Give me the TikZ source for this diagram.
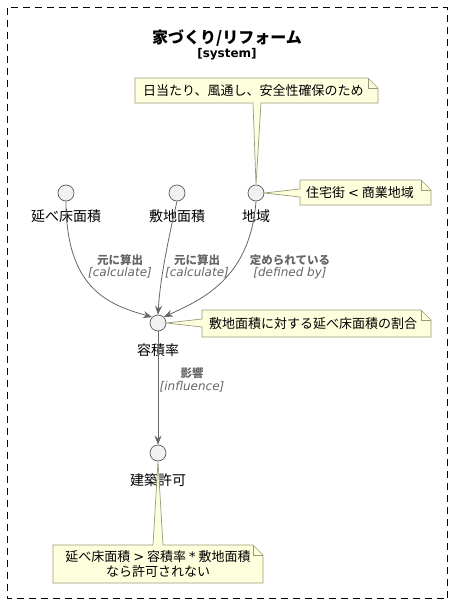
\documentclass[tikz,border=0pt]{standalone}
\usepackage{fontspec}
\setmainfont{Noto Sans CJK JP}
\newfontfamily\latin{DejaVu Sans}
\usetikzlibrary{arrows.meta}
\definecolor{notefill}{HTML}{FEFFDD}
\definecolor{noteline}{HTML}{9A9A78}
\definecolor{circfill}{HTML}{F1F1F1}
\definecolor{circline}{HTML}{5A5A5A}
\definecolor{edgecol}{HTML}{666666}
\definecolor{lblcol}{HTML}{666666}
\tikzset{
  usecase/.style={circle, draw=circline, fill=circfill, line width=0.7pt, minimum size=16pt, inner sep=0pt},
  uclabel/.style={font=\fontsize{14}{16}\selectfont, text=black, inner sep=0pt},
  notebox/.style={draw=noteline, fill=notefill, line width=0.7pt, line join=miter},
  notetext/.style={font=\fontsize{13}{16}\selectfont, inner sep=0pt, align=center},
  rel/.style={draw=edgecol, line width=0.8pt, -{Stealth[length=9pt,width=7pt]}},
  rellbl/.style={font=\fontsize{11.5}{13}\selectfont\bfseries, text=lblcol, inner sep=0pt},
  relsub/.style={font=\latin\fontsize{12}{14}\selectfont\itshape, text=lblcol, inner sep=0pt},
}
\begin{document}
\begin{tikzpicture}[x=1pt,y=-1pt]
\useasboundingbox (0,0) rectangle (453,605);
% frame
\draw[black, line width=0.8pt, dash pattern=on 7pt off 5pt] (7.5,7.5) rectangle (447.5,598.5);
\node[font=\fontsize{16}{18}\selectfont\bfseries, inner sep=0pt] (title) at (227,38) {家づくり/リフォーム};
\node[font=\latin\fontsize{12}{14}\selectfont\bfseries, inner sep=0pt] (stereo) at (227,54) {[system]};

% usecases
\node[usecase] (yuka) at (66,193) {};
\node[uclabel] (yukal) at (66,216) {延べ床面積};
\node[usecase] (shiki) at (177,193) {};
\node[uclabel] (shikil) at (177,216) {敷地面積};
\node[usecase] (chiiki) at (256,193) {};
\node[uclabel] (chiikil) at (256,216) {地域};
\node[usecase] (yoseki) at (158,323) {};
\node[uclabel] (yosekil) at (158,350) {容積率};
\node[usecase] (kyoka) at (158,453) {};
\node[uclabel] (kyokal) at (158,480) {建築許可};

% notes
\draw[notebox] (135,78) -- (368,78) -- (378,88) -- (378,103) -- (261,103) -- (chiiki.north) -- (253,103) -- (135,103) -- cycle;
\draw[noteline, line width=0.7pt] (368,78) -- (368,88) -- (378,88);
\node[notetext, anchor=west] (n1) at (143,90.5) {日当たり、風通し、安全性確保のため};

\draw[notebox] (300,180) -- (421,180) -- (431,190) -- (431,205) -- (300,205) -- (300,197) -- (chiiki.east) -- (300,189) -- cycle;
\draw[noteline, line width=0.7pt] (421,180) -- (421,190) -- (431,190);
\node[notetext, anchor=west] (n2) at (306,192.5) {住宅街 {\latin <} 商業地域};

\draw[notebox] (202,310) -- (421,310) -- (431,320) -- (431,337) -- (202,337) -- (202,327) -- (yoseki.east) -- (202,319) -- cycle;
\draw[noteline, line width=0.7pt] (421,310) -- (421,320) -- (431,320);
\node[notetext, anchor=west] (n3) at (209,323.5) {敷地面積に対する延べ床面積の割合};

\draw[notebox] (53,545) -- (153,545) -- (kyoka.south) -- (163,545) -- (253,545) -- (263,555) -- (263,583) -- (53,583) -- cycle;
\draw[noteline, line width=0.7pt] (253,545) -- (253,555) -- (263,555);
\node[notetext, font=\fontsize{13}{15}\selectfont] (n4) at (158,564) {延べ床面積 {\latin >} 容積率 {\latin *} 敷地面積\\なら許可されない};

% relations
\draw[rel] (yuka.south) .. controls (66,290) and (110,305) .. (yoseki.north west);
\draw[rel] (shiki.south) .. controls (168,240) and (160,280) .. (yoseki.north);
\draw[rel] (chiiki.south) .. controls (250,280) and (200,300) .. (yoseki.north east);
\draw[rel] (yoseki.south) -- (kyoka.north);

% relation labels
\node[rellbl] (l1) at (120,260) {元に算出};
\node[relsub] (l1s) at (120,273) {[calculate]};
\node[rellbl] (l2) at (197,260) {元に算出};
\node[relsub] (l2s) at (197,273) {[calculate]};
\node[rellbl] (l3) at (290,260) {定められている};
\node[relsub] (l3s) at (290,273) {[defined by]};
\node[rellbl] (l4) at (192,373) {影響};
\node[relsub] (l4s) at (192,387) {[influence]};
\end{tikzpicture}
\end{document}
